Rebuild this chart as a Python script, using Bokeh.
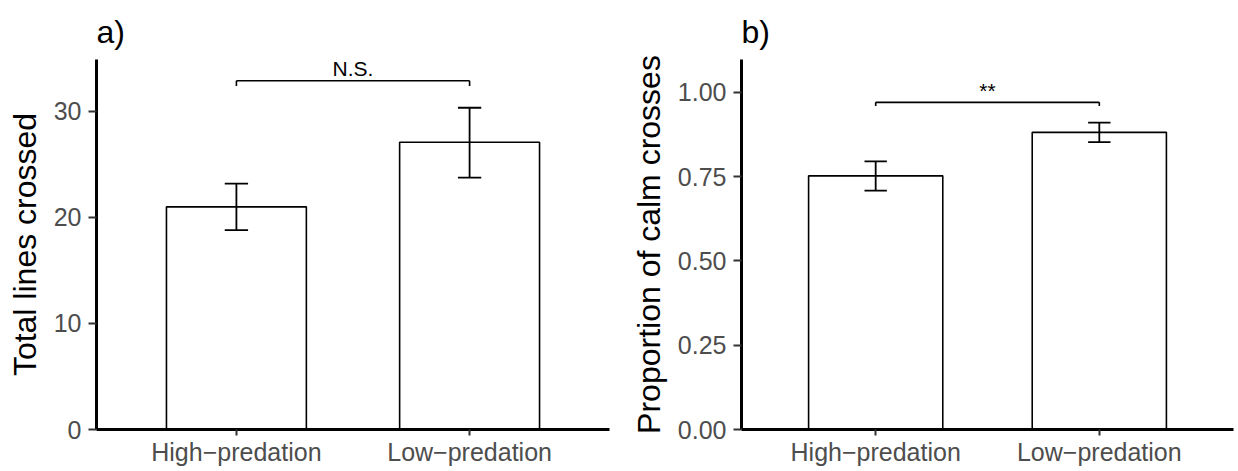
from bokeh.plotting import figure
from bokeh.layouts import row
from bokeh.models import Range1d, FixedTicker, NumeralTickFormatter
from bokeh.embed import file_html
from bokeh.resources import INLINE
from bokeh.core.properties import value

# ---------------- data ----------------
categories = ["High\u2212predation", "Low\u2212predation"]

lines_mean = [21.0, 27.1]
lines_upper = [23.2, 30.35]
lines_lower = [18.8, 23.75]

calm_mean = [0.752, 0.881]
calm_upper = [0.795, 0.910]
calm_lower = [0.708, 0.852]

lines_ticks = [0, 10, 20, 30]
calm_ticks = [0.0, 0.25, 0.5, 0.75, 1.0]

sig_a = "N.S."
sig_b = "**"
bracket_a = [32.9, 32.4]      # bracket level, tip end
bracket_b = [0.970, 0.959]
sig_a_y = 34.05
sig_b_y = 1.006

FONT = "Liberation Sans"


def panel(tag, ylabel, means, uppers, lowers, ticks, y_end, bracket, sig, sig_y,
          width, border_left, border_right, fmt=None):
    xs = [i + 1 for i in range(len(categories))]
    p = figure(width=width, height=471, x_range=Range1d(0.4, len(categories) + 0.6),
               y_range=Range1d(0, y_end), output_backend="svg", toolbar_location=None,
               min_border_left=border_left, min_border_right=border_right,
               min_border_top=59, min_border_bottom=42, title=tag)
    p.outline_line_color = None
    p.grid.visible = False
    p.background_fill_color = "white"
    p.border_fill_color = "white"

    p.title.text_font = FONT
    p.title.text_font_size = "32px"
    p.title.text_font_style = "normal"
    p.title.text_color = "black"
    p.title.align = "left"
    p.title.standoff = 20

    # bars
    p.vbar(x=xs, top=means, width=0.6, bottom=0, fill_color="white",
           line_color="black", line_width=1.6)
    # error bars
    cap = 0.05
    p.segment(x0=xs, y0=lowers, x1=xs, y1=uppers, line_color="black", line_width=1.8)
    p.segment(x0=[x - cap for x in xs], y0=uppers, x1=[x + cap for x in xs], y1=uppers,
              line_color="black", line_width=1.8)
    p.segment(x0=[x - cap for x in xs], y0=lowers, x1=[x + cap for x in xs], y1=lowers,
              line_color="black", line_width=1.8)
    # significance bracket
    p.segment(x0=[xs[0]], y0=[bracket[0]], x1=[xs[-1]], y1=[bracket[0]],
              line_color="black", line_width=1.6)
    p.segment(x0=[xs[0], xs[-1]], y0=[bracket[0]] * 2, x1=[xs[0], xs[-1]], y1=[bracket[1]] * 2,
              line_color="black", line_width=1.6)
    p.text(x=[(xs[0] + xs[-1]) / 2], y=[sig_y], text=[sig], text_align="center",
           text_baseline="alphabetic", text_font=value(FONT), text_font_size="21px",
           text_color="black")

    # axes
    for ax in (p.xaxis[0], p.yaxis[0]):
        ax.axis_line_color = "black"
        ax.axis_line_width = 3
        ax.major_tick_line_color = "#333333"
        ax.major_tick_line_width = 2
        ax.major_tick_in = 0
        ax.minor_tick_line_color = None
        ax.major_label_text_font = FONT
        ax.major_label_text_font_size = "25px"
        ax.major_label_text_color = "#4D4D4D"

    p.xaxis.ticker = FixedTicker(ticks=xs)
    p.xaxis.major_label_overrides = {x: c for x, c in zip(xs, categories)}
    p.xaxis.major_tick_out = 6
    p.xaxis.major_label_standoff = 2

    p.yaxis.ticker = FixedTicker(ticks=ticks)
    if fmt:
        p.yaxis.formatter = NumeralTickFormatter(format=fmt)
    p.yaxis.major_tick_out = 8
    p.yaxis.major_label_standoff = 7
    p.yaxis.axis_label = ylabel
    p.yaxis.axis_label_text_font = FONT
    p.yaxis.axis_label_text_font_size = "32px"
    p.yaxis.axis_label_text_font_style = "normal"
    p.yaxis.axis_label_text_color = "black"
    p.yaxis.axis_label_standoff = 8
    return p


p1 = panel("a)", "Total lines crossed", lines_mean, lines_upper, lines_lower, lines_ticks,
           34.9, bracket_a, sig_a, sig_a_y, 620, 96, 11)
p2 = panel("b)", "Proportion of calm crosses", calm_mean, calm_upper, calm_lower, calm_ticks,
           1.097, bracket_b, sig_b, sig_b_y, 618, 121, 5, fmt="0.00")

layout = row(p1, p2)
open("out.html", "w").write(file_html(layout, INLINE))
